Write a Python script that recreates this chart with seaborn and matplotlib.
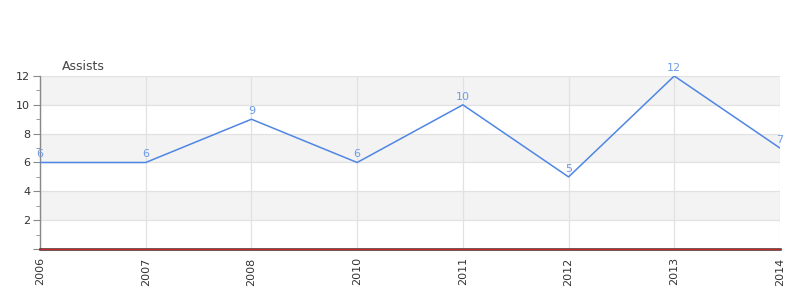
import matplotlib
matplotlib.use("Agg")
import matplotlib.pyplot as plt
import seaborn as sns
import pandas as pd
from matplotlib.ticker import MultipleLocator

years = ["2006", "2007", "2008", "2010", "2011", "2012", "2013", "2014"]
assists = [6, 6, 9, 6, 10, 5, 12, 7]
title = "Assists"

sns.set_style("white")
plt.rcParams["font.family"] = ["DejaVu Sans"]

df = pd.DataFrame({"year": years, "assists": assists})

fig = plt.figure(figsize=(8, 3), dpi=100)
ax = fig.add_axes([0.05, 0.17, 0.925, 0.5767])

line_color = "#4f86e3"
label_color = "#6f9be6"

# alternating bands
for lo in (2, 6, 10):
    ax.axhspan(lo, lo + 2, color="#f3f3f3", zorder=0, lw=0)

sns.lineplot(data=df, x="year", y="assists", ax=ax, color=line_color,
             linewidth=1.1, sort=False, zorder=3)

for i, v in enumerate(assists):
    ax.text(i, v + 0.22, str(v), ha="center", va="bottom", fontsize=8,
            color=label_color, zorder=4)

ax.set_xlim(0, len(years) - 1)
ax.set_ylim(0, 12)
ax.set_yticks([0, 2, 4, 6, 8, 10, 12])
ax.set_yticklabels(["", "2", "4", "6", "8", "10", "12"])
ax.yaxis.set_minor_locator(MultipleLocator(1))
ax.grid(True, which="major", color="#e2e2e2", linewidth=0.9, zorder=1)
ax.set_axisbelow(True)

ax.axhline(0, color="#cc2222", linewidth=0.9, zorder=6, clip_on=False)

for s in ("top", "right"):
    ax.spines[s].set_visible(False)
ax.spines["left"].set_color("#888888")
ax.spines["left"].set_linewidth(1)
ax.spines["bottom"].set_color("#333333")
ax.spines["bottom"].set_linewidth(1.8)
ax.spines["bottom"].set_zorder(5)

ax.tick_params(axis="y", which="major", length=5, color="#888888",
               labelsize=8, labelcolor="#333333", left=True, pad=2)
ax.tick_params(axis="y", which="minor", length=3, color="#888888", left=True)
ax.tick_params(axis="x", length=0, labelsize=8, labelcolor="#333333",
               rotation=90, pad=6)

ax.set_xlabel("")
ax.set_ylabel("")
fig.text(62 / 800, 1 - 66 / 300, title, fontsize=9, color="#444444",
         ha="left", va="center")

fig.savefig("out.png", dpi=100, facecolor="white")
